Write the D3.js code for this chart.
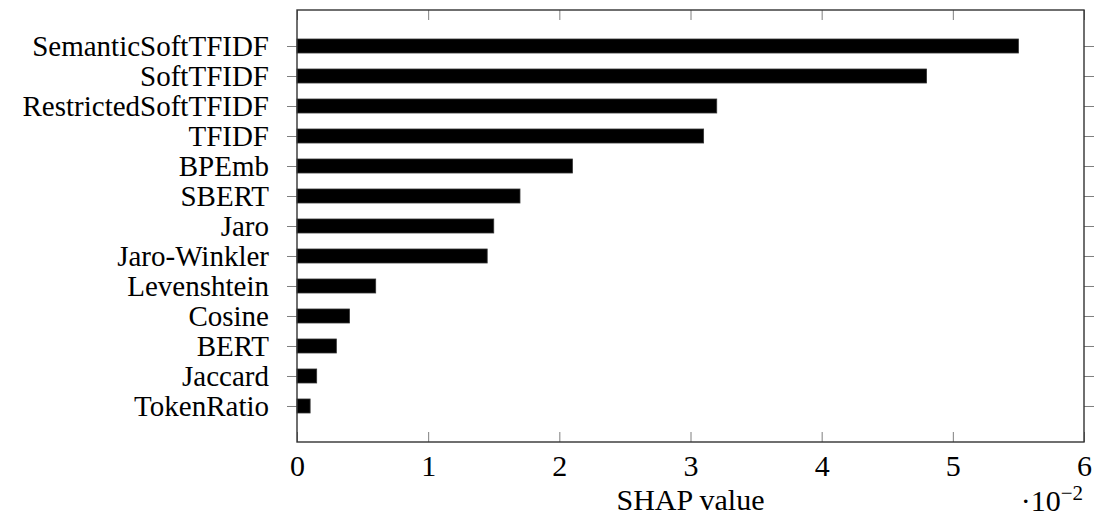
<!DOCTYPE html>
<html>
<head>
<meta charset="utf-8">
<script src="https://cdn.jsdelivr.net/npm/d3@7"></script>
<style>
  body { margin: 0; background: #fff; }
  svg text { font-family: "Liberation Serif", "DejaVu Serif", serif; fill: #000; }
</style>
</head>
<body>
<div id="chart"></div>
<script>
// data (SHAP value x 10^-2)
const categories = ['SemanticSoftTFIDF', 'SoftTFIDF', 'RestrictedSoftTFIDF', 'TFIDF', 'BPEmb',
  'SBERT', 'Jaro', 'Jaro-Winkler', 'Levenshtein', 'Cosine', 'BERT', 'Jaccard', 'TokenRatio'];
const shapValues = [5.5, 4.8, 3.2, 3.1, 2.1, 1.7, 1.5, 1.45, 0.6, 0.4, 0.3, 0.15, 0.1];
const xTicks = [0, 1, 2, 3, 4, 5, 6];

const W = 1096, H = 519;
const plot = {left: 297, right: 1084, top: 10, bottom: 442};

const svg = d3.select('#chart').append('svg')
  .attr('width', W)
  .attr('height', H);

const x = d3.scaleLinear().domain([0, 6]).range([plot.left, plot.right]);
const y = d3.scaleBand().domain(categories).range([plot.top, plot.bottom])
  .paddingInner(16 / 30)
  .paddingOuter(0.967);

// bars
svg.append('g').selectAll('rect')
  .data(categories)
  .join('rect')
  .attr('x', x(0))
  .attr('y', d => y(d))
  .attr('width', (d, i) => x(shapValues[i]) - x(0))
  .attr('height', y.bandwidth())
  .attr('fill', '#000')
  .attr('stroke', '#333')
  .attr('stroke-width', 0.8);

// axes
const yc = d => y(d) + y.bandwidth() / 2;
const yPoint = d3.scalePoint().domain(categories).range([yc(categories[0]), yc(categories[categories.length - 1])]);

let yLeft = svg.append('g')
  .attr('transform', `translate(${plot.left},0)`)
  .call(d3.axisLeft(yPoint).tickSize(10).tickPadding(18));
yLeft.selectAll('text').style('font-size', '29px').attr('dy', '0.33em');

let yRight = svg.append('g')
  .attr('transform', `translate(${plot.right},0)`)
  .call(d3.axisRight(yPoint).tickSize(10).tickFormat(''));

let xBottom = svg.append('g')
  .attr('transform', `translate(0,${plot.bottom})`)
  .call(d3.axisBottom(x).tickValues(xTicks).tickSizeInner(-10).tickSizeOuter(0)
    .tickPadding(13).tickFormat(d3.format('d')));
xBottom.selectAll('text').style('font-size', '30px').attr('dy', '0.71em');

let xTop = svg.append('g')
  .attr('transform', `translate(0,${plot.top})`)
  .call(d3.axisTop(x).tickValues(xTicks).tickSizeInner(-10).tickSizeOuter(0).tickFormat(''));

[yLeft, yRight, xBottom, xTop].forEach(g => {
  g.select('.domain').remove();
  g.selectAll('line').attr('stroke', '#7f7f7f').attr('stroke-width', 1);
});

// frame
svg.append('rect')
  .attr('x', plot.left).attr('y', plot.top)
  .attr('width', plot.right - plot.left).attr('height', plot.bottom - plot.top)
  .attr('fill', 'none')
  .attr('stroke', '#333')
  .attr('stroke-width', 1.4);

// axis label
svg.append('text')
  .attr('x', (plot.left + plot.right) / 2)
  .attr('y', 510)
  .attr('text-anchor', 'middle')
  .style('font-size', '30px')
  .text('SHAP value');

// scale factor
let sf = svg.append('text')
  .attr('x', 1083)
  .attr('y', 511)
  .attr('text-anchor', 'end')
  .style('font-size', '30px');
sf.append('tspan').text('\u00b710');
sf.append('tspan').attr('dy', -11).style('font-size', '21px').text('\u22122');
</script>
</body>
</html>
